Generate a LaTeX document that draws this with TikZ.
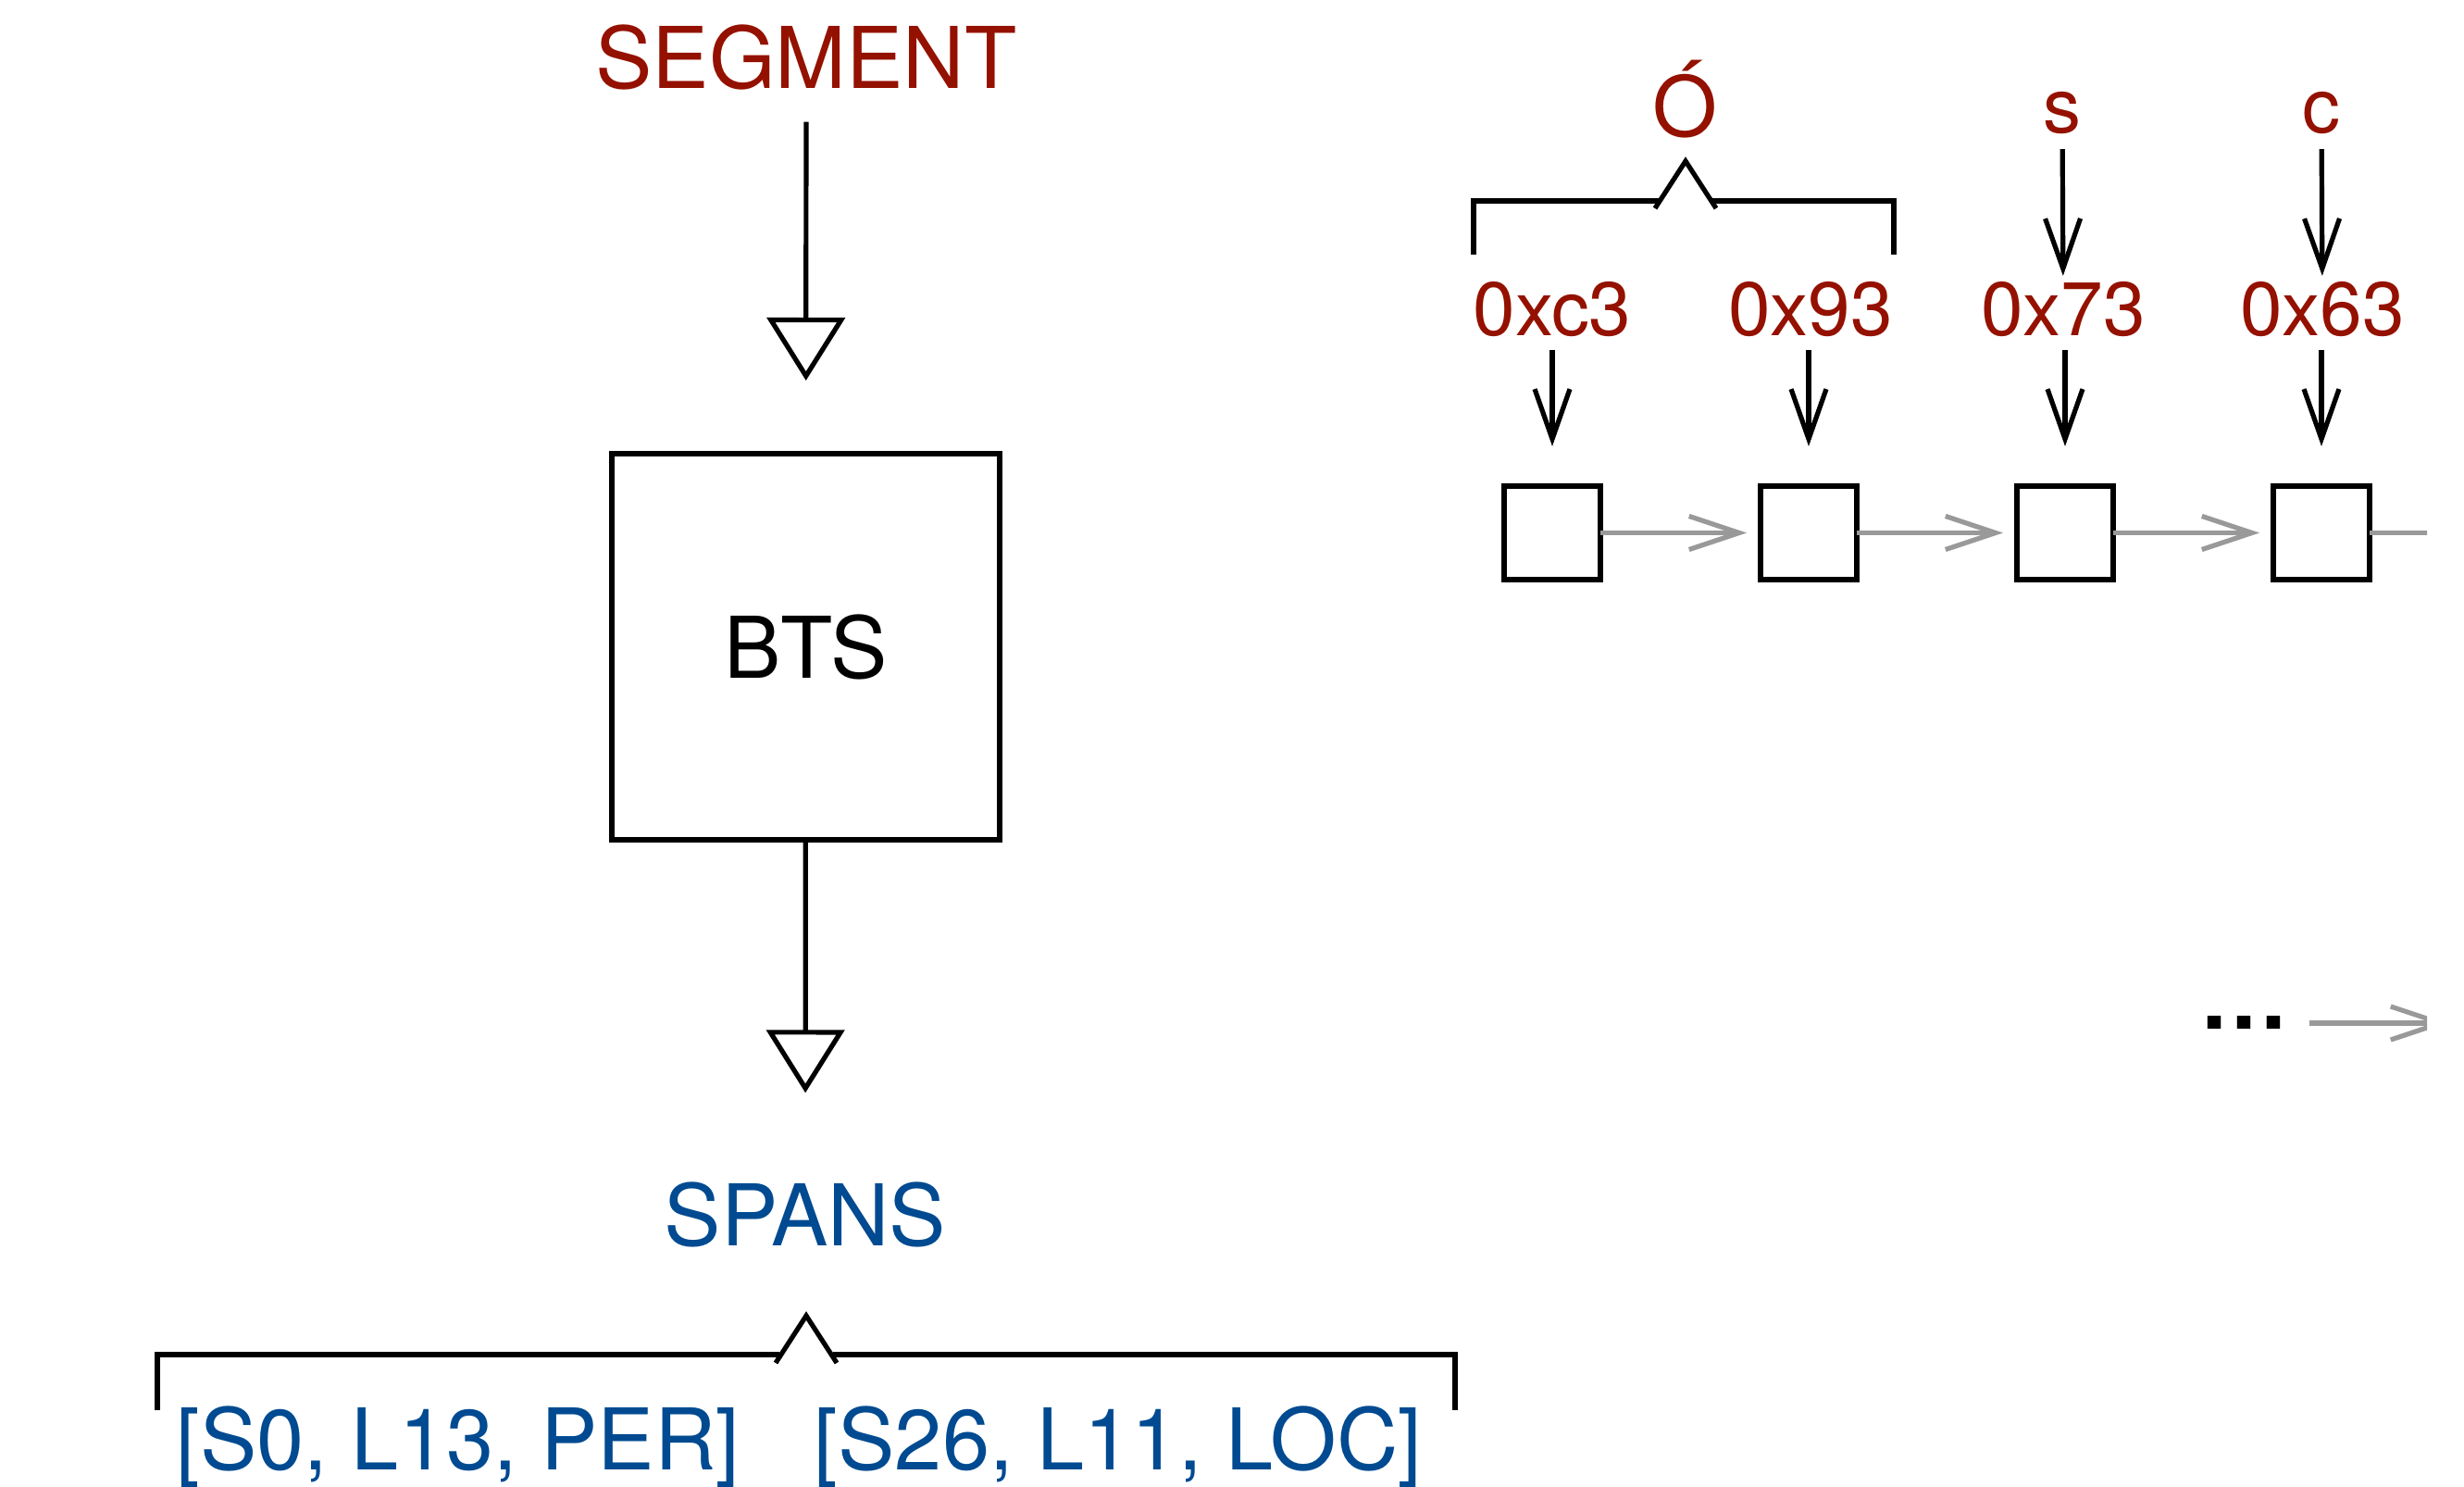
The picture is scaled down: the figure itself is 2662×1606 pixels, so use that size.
\documentclass[tikz,border=0pt]{standalone}
\usepackage{fontspec}
\setmainfont{TeX Gyre Heros}
\usetikzlibrary{arrows.meta}
\definecolor{cayenne}{RGB}{148,17,0}
\definecolor{ocean}{RGB}{0,74,145}
\definecolor{linkgray}{RGB}{153,153,153}

\begin{document}
\begin{tikzpicture}[x=0.5pt,y=-0.5pt,
  every node/.style={inner sep=0pt, outer sep=0pt},
  big/.style={font=\fontsize{46}{50}\selectfont},
  small/.style={font=\fontsize{41}{45}\selectfont, text=cayenne},
  flow/.style={line width=2.6pt, -{Triangle[open, length=34pt, width=42pt]}},
  feed/.style={line width=2.6pt, -{Straight Barb[length=27pt, width=19pt]}},
  link/.style={line width=2.6pt, draw=linkgray, -{Straight Barb[length=27pt, width=18pt]}},
  bracket/.style={line width=2.6pt, line join=miter},
  cell/.style={draw, line width=2.6pt, minimum width=52pt, minimum height=50.5pt},
]
\useasboundingbox (0,0) rectangle (2662,1606);
\begin{scope}
\clip (0,0) rectangle (2622,1606);

% ---- left: segment -> BTS -> spans ----
\node[big, text=cayenne, anchor=base] (seg) at (871,95) {SEGMENT};
\node[draw, line width=2.6pt, minimum width=209.5pt, minimum height=208.5pt, big]
  (bts) at (870.5,698.5) {BTS};
\node[big, text=ocean, anchor=base] (spans) at (870,1345) {SPANS};

\draw[flow, shorten <=17.5pt, shorten >=39.5pt] (seg) -- (bts);
\draw[flow, shorten >=48pt] (bts) -- (spans);

% bracket grouping the span list
\draw[bracket] (170,1523) -- (170,1463) -- (842,1463);
\draw[bracket] (838,1472) -- (871,1421) -- (904,1472);
\draw[bracket] (900,1463) -- (1572,1463) -- (1572,1523);

\node[big, text=ocean, anchor=base] (span1) at (495,1587) {[S0, L13, PER]};
\node[big, text=ocean, anchor=base] (span2) at (1208,1587) {[S26, L11, LOC]};

% ---- right: characters -> bytes -> chain of cells ----
\node[small, font=\fontsize{45}{48}\selectfont, anchor=base] (chO) at (1820,147) {Ó};
\node[small, anchor=base] (chs) at (2228,143) {s};
\node[small, anchor=base] (chc) at (2508,143) {c};

% bracket joining the two bytes of the accented letter
\draw[bracket] (1592,275) -- (1592,217) -- (1794,217);
\draw[bracket] (1788,225) -- (1821,174) -- (1854,225);
\draw[bracket] (1848,217) -- (2046,217) -- (2046,275);

\node[cell] (b1) at (1677,575.5) {};
\node[cell] (b2) at (1954,575.5) {};
\node[cell] (b3) at (2231,575.5) {};
\node[cell] (b4) at (2508,575.5) {};
\coordinate (b5) at (2785,575.5);

\node[small, anchor=base] (h1) at (1677,362) {0xc3};
\node[small, anchor=base] (h2) at (1956,362) {0x93};
\node[small, anchor=base] (h3) at (2229,362) {0x73};
\node[small, anchor=base] (h4) at (2509,362) {0x63};

\draw[feed, shorten <=8.5pt, shorten >=3pt] (chs) -- (h3);
\draw[feed, shorten <=8.5pt, shorten >=3pt] (chc) -- (h4);

\foreach \h/\b in {h1/b1, h2/b2, h3/b3, h4/b4}
  \draw[feed, shorten <=7.5pt, shorten >=21.5pt] (\h.south -| \b) -- (\b);

\draw[link, shorten >=7.5pt] (b1) -- (b2);
\draw[link, shorten >=7.5pt] (b2) -- (b3);
\draw[link, shorten >=7.5pt] (b3) -- (b4);
\draw[link] (b4) -- (b5);

% continuation of the chain
\node[big, font=\fontsize{48}{50}\bfseries] (dots) at (2424,1104) {…};
\coordinate (more) at (2645,1105);
\draw[link, shorten <=11.5pt] (dots.east |- more) -- (more);
\end{scope}
\end{tikzpicture}
\end{document}
